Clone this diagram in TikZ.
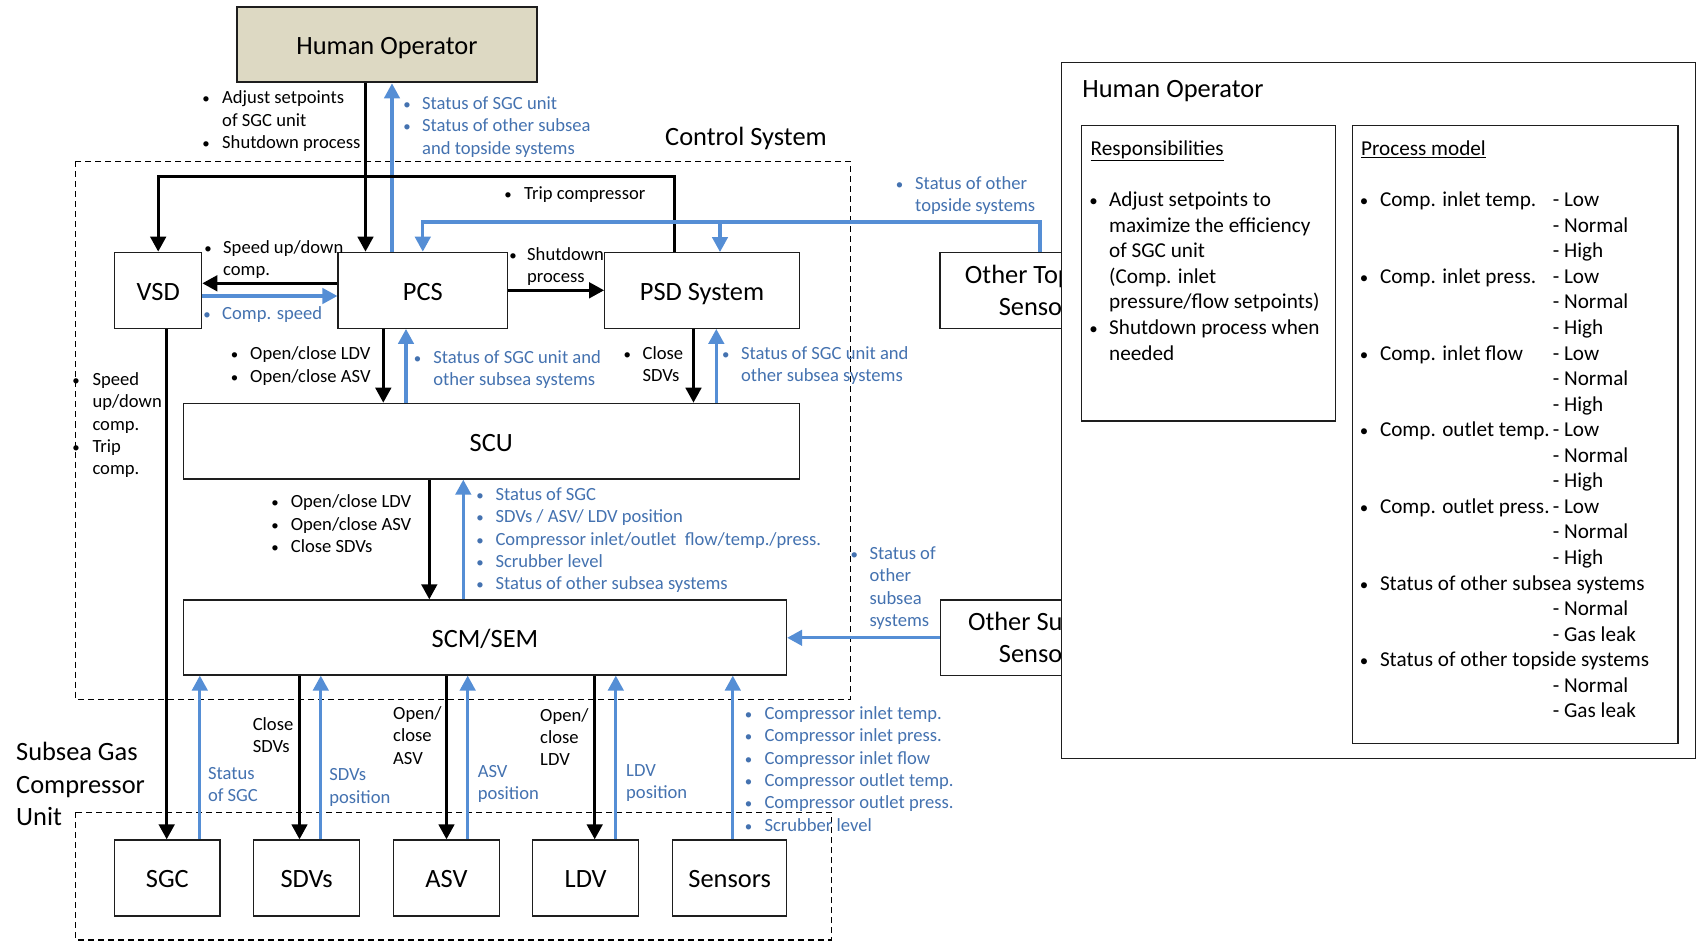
\documentclass[tikz,border=0pt]{standalone}
\usepackage{fontspec}
\setmainfont{Carlito}
\usetikzlibrary{arrows.meta}
\definecolor{lblue}{RGB}{85,142,213}
\definecolor{tblue}{RGB}{68,114,176}
\definecolor{hofill}{RGB}{221,217,195}
\definecolor{bdr}{RGB}{30,30,30}
\newcommand{\smallf}{\fontsize{18.6pt}{22.4pt}\selectfont}
\newcommand{\bigf}{\fontsize{26.4pt}{32.2pt}\selectfont}
\newcommand{\panf}{\fontsize{21.2pt}{25.55pt}\selectfont}
\newcommand{\bu}[1]{\makebox[#1][l]{\makebox[0pt]{\scalebox{0.8}{\textbullet}}}}
\newcommand{\tl}[1]{\begin{tabular}[t]{@{}l@{}l@{}}#1\end{tabular}}
\newcommand{\tll}[1]{\begin{tabular}[t]{@{}l@{}}#1\end{tabular}}
\newcommand{\tlt}[1]{\begin{tabular}[t]{@{}l@{}l@{}l@{}}#1\end{tabular}}
\newcommand{\pli}[1]{\makebox[172.8pt][l]{#1}}
\begin{document}
\begin{tikzpicture}[x=1pt,y=-1pt,
  box/.style={draw=bdr,line width=1.3pt,fill=white,inner sep=0pt,font=\bigf,align=center},
  onel/.style={text height=19.6pt,text depth=0pt},
  pbox/.style={draw=bdr,line width=1.3pt,fill=white,inner sep=0pt},
  lbl/.style={inner sep=0pt,anchor=base west,font=\smallf},
  blbl/.style={lbl,text=tblue},
  big/.style={inner sep=0pt,font=\bigf},
  pan/.style={inner sep=0pt,anchor=base west,font=\panf},
  ka/.style={draw=black,line width=3.1pt,-{Triangle[length=15pt,width=15.5pt]}},
  ba/.style={draw=lblue,line width=3.1pt,-{Triangle[length=15pt,width=15.5pt]}},
  dsh/.style={draw=black,line width=1.2pt,dash pattern=on 6pt off 4pt}]
\useasboundingbox (0,0) rectangle (1701,941);
\fill[white] (0,0) rectangle (1701,941);

% dashed group frames
\draw[dsh] (75.8,161.5) rectangle (850.6,699.3);
\draw[dsh] (75.8,812.3) rectangle (831.3,940);
\node[big,anchor=base] (cs) at (746,145.8) {Control System};
\node[big,anchor=base west] (sg) at (16,760.8) {\tll{Subsea Gas\\Compressor\\Unit}};

% boxes
\node[box,onel,line width=2.8pt,fill=hofill,minimum width=300pt,minimum height=75pt] (ho) at (387,44.5) {Human Operator};
\node[box,onel,minimum width=87pt,minimum height=76pt] (vsd) at (158.2,290.3) {VSD};
\node[box,onel,minimum width=169.5pt,minimum height=76pt] (pcs) at (422.8,290.3) {PCS};
\node[box,onel,minimum width=194.5pt,minimum height=75.6pt] (psd) at (702,290.5) {PSD System};
\node[box,minimum width=200pt,minimum height=75.6pt] (ots) at (1040,290.5) {Other Topside\\Sensors};
\node[box,onel,minimum width=616pt,minimum height=75.7pt] (scu) at (491.3,441.2) {SCU};
\node[box,onel,minimum width=603pt,minimum height=75pt] (scm) at (485,637.5) {SCM/SEM};
\node[box,minimum width=199.5pt,minimum height=75.7pt] (oss) at (1040.2,637.8) {Other Subsea\\Sensors};
\node[box,onel,minimum width=105.2pt,minimum height=76pt] (sgc) at (167.4,878) {SGC};
\node[box,onel,minimum width=106pt,minimum height=76pt] (sdv) at (306.7,878) {SDVs};
\node[box,onel,minimum width=106pt,minimum height=76pt] (asv) at (446.4,878) {ASV};
\node[box,onel,minimum width=106pt,minimum height=76pt] (ldv) at (585.7,878) {LDV};
\node[box,onel,minimum width=114pt,minimum height=76pt] (sen) at (729.7,878) {Sensors};

% helper coordinates
\coordinate (xa) at (365.5,0);
\coordinate (xb) at (392,0);
\coordinate (xc) at (674.5,0);
\coordinate (xe) at (720,0);
\coordinate (ytr) at (0,176.7);
\coordinate (yb) at (0,222);
\coordinate (y1) at (0,283.3);
\coordinate (y2) at (0,296);
\coordinate (x1) at (383.3,0);
\coordinate (x2) at (406,0);
\coordinate (x3) at (693.5,0);
\coordinate (x4) at (716.3,0);
\coordinate (x5) at (429.3,0);
\coordinate (x6) at (463.3,0);
\coordinate (x7) at (166.7,0);
\coordinate (x8) at (199.8,0);
\coordinate (x9) at (299.5,0);
\coordinate (x10) at (320.8,0);
\coordinate (x11) at (446.5,0);
\coordinate (x12) at (467.7,0);
\coordinate (x13) at (594.7,0);
\coordinate (x14) at (615.8,0);
\coordinate (x15) at (732.8,0);

% connectors
\draw[ka] (ho.south -| xa) -- (pcs.north -| xa);
\draw[ba] (pcs.north -| xb) -- (ho.south -| xb);
\draw[ka] (psd.north -| xc) -- (xc |- ytr) -- (vsd.north |- ytr) -- (vsd.north);
\draw[ba] (ots.north) -- (ots.north |- yb) -- (pcs.north |- yb) -- (pcs.north);
\draw[ba] (xe |- yb) -- (psd.north -| xe);
\draw[ka] (pcs.west |- y1) -- (vsd.east |- y1);
\draw[ba] (vsd.east |- y2) -- (pcs.west |- y2);
\draw[ka] (pcs.east) -- (psd.west |- pcs.east);
\draw[ka] (pcs.south -| x1) -- (scu.north -| x1);
\draw[ba] (scu.north -| x2) -- (pcs.south -| x2);
\draw[ka] (psd.south -| x3) -- (scu.north -| x3);
\draw[ba] (scu.north -| x4) -- (psd.south -| x4);
\draw[ka] (scu.south -| x5) -- (scm.north -| x5);
\draw[ba] (scm.north -| x6) -- (scu.south -| x6);
\draw[ka] (vsd.south -| x7) -- (sgc.north -| x7);
\draw[ba] (sgc.north -| x8) -- (scm.south -| x8);
\draw[ka] (scm.south -| x9) -- (sdv.north -| x9);
\draw[ba] (sdv.north -| x10) -- (scm.south -| x10);
\draw[ka] (scm.south -| x11) -- (asv.north -| x11);
\draw[ba] (asv.north -| x12) -- (scm.south -| x12);
\draw[ka] (scm.south -| x13) -- (ldv.north -| x13);
\draw[ba] (ldv.north -| x14) -- (scm.south -| x14);
\draw[ba] (sen.north -| x15) -- (scm.south -| x15);
\draw[ba] (oss.west) -- (scm.east |- oss.west);

% labels
\node[lbl] (la) at (206,103.7) {\tl{\bu{16pt}&Adjust setpoints\\&of SGC unit\\\bu{16pt}&Shutdown process}};
\node[blbl] (lb) at (407,109.3) {\tl{\bu{15pt}&Status of SGC unit\\\bu{15pt}&Status of other subsea\\&and topside systems}};
\node[lbl] (lc) at (508,199.3) {\tl{\bu{16pt}&Trip compressor}};
\node[blbl] (ld) at (899.3,189.3) {\tl{\bu{15.7pt}&Status of other\\&topside systems}};
\node[lbl] (le) at (208,253.3) {\tl{\bu{15pt}&Speed up/down\\&comp.}};
\node[blbl] (lf) at (207,319.3) {\tl{\bu{15pt}&Comp. speed}};
\node[lbl] (lg) at (513,260.3) {\tl{\bu{14pt}&Shutdown\\&process}};
\node[lbl] (lh) at (234.3,360) {\tl{\bu{15.7pt}&Open/close LDV\\\bu{15.7pt}&Open/close ASV}};
\node[blbl] (li) at (417.4,363.3) {\tl{\bu{15.8pt}&Status of SGC unit and\\&other subsea systems}};
\node[lbl] (lj) at (627.2,359.3) {\tl{\bu{15.3pt}&Close\\&SDVs}};
\node[blbl] (lk) at (725.5,359.3) {\tl{\bu{15.3pt}&Status of SGC unit and\\&other subsea systems}};
\node[lbl] (ll) at (76,385.3) {\tl{\bu{16.3pt}&Speed\\&up/down\\&comp.\\\bu{16.3pt}&Trip\\&comp.}};
\node[lbl] (lm) at (275,507.7) {\tl{\bu{15.7pt}&Open/close LDV\\\bu{15.7pt}&Open/close ASV\\\bu{15.7pt}&Close SDVs}};
\node[blbl] (ln) at (480,500.3) {\tl{\bu{15.3pt}&Status of SGC\\\bu{15.3pt}&SDVs / ASV/ LDV position\\\bu{15.3pt}&Compressor inlet/outlet\ \ flow/temp./press.\\\bu{15.3pt}&Scrubber level\\\bu{15.3pt}&Status of other subsea systems}};
\node[blbl] (lo) at (854,559.3) {\tl{\bu{15.3pt}&Status of\\&other\\&subsea\\&systems}};
\node[blbl] (lp) at (207.8,779.3) {\tll{Status\\of SGC}};
\node[lbl] (lq) at (252.6,730.3) {\tll{Close\\SDVs}};
\node[blbl] (lr) at (329.1,780.7) {\tll{SDVs\\position}};
\node[lbl] (ls) at (393,719.3) {\tll{Open/\\close\\ASV}};
\node[blbl] (lt) at (477.6,777) {\tll{ASV\\position}};
\node[lbl] (lu) at (540,721) {\tll{Open/\\close\\LDV}};
\node[blbl] (lv) at (626,776) {\tll{LDV\\position}};
\node[blbl] (lw) at (748.3,719.3) {\tl{\bu{16pt}&Compressor inlet temp.\\\bu{16pt}&Compressor inlet press.\\\bu{16pt}&Compressor inlet flow\\\bu{16pt}&Compressor outlet temp.\\\bu{16pt}&Compressor outlet press.\\\bu{16pt}&Scrubber level}};

% right panel
\node[pbox,minimum width=634.4pt,minimum height=695.6pt] (rp) at (1378.6,410.5) {};
\node[big,anchor=base west] (rpt) at (1082.2,97.8) {Human Operator};
\node[pbox,minimum width=253.9pt,minimum height=295.7pt] (resp) at (1208.65,273.15) {};
\node[pbox,minimum width=325.3pt,minimum height=618pt] (pmod) at (1515.25,434.3) {};
\node[pan] (rh) at (1090.5,155.8) {\underline{Responsibilities}};
\node[pan] (ph) at (1360.9,155.8) {\underline{Process model}};
\node[pan] (rl) at (1093.4,206.8) {\tl{\bu{15.6pt}&Adjust setpoints to\\&maximize the efficiency\\&of SGC unit\\&(Comp. inlet\\&pressure/flow setpoints)\\\bu{15.6pt}&Shutdown process when\\&needed}};
\node[pan] (pl) at (1363.8,206.8) {\tlt{\bu{16pt}&\pli{Comp. inlet temp.}&- Low\\&&- Normal\\&&- High\\
\bu{16pt}&\pli{Comp. inlet press.}&- Low\\&&- Normal\\&&- High\\
\bu{16pt}&\pli{Comp. inlet flow}&- Low\\&&- Normal\\&&- High\\
\bu{16pt}&\pli{Comp. outlet temp.}&- Low\\&&- Normal\\&&- High\\
\bu{16pt}&\pli{Comp. outlet press.}&- Low\\&&- Normal\\&&- High\\
\bu{16pt}&\multicolumn{2}{@{}l@{}}{Status of other subsea systems}\\&&- Normal\\&&- Gas leak\\
\bu{16pt}&\multicolumn{2}{@{}l@{}}{Status of other topside systems}\\&&- Normal\\&&- Gas leak}};
\end{tikzpicture}
\end{document}
